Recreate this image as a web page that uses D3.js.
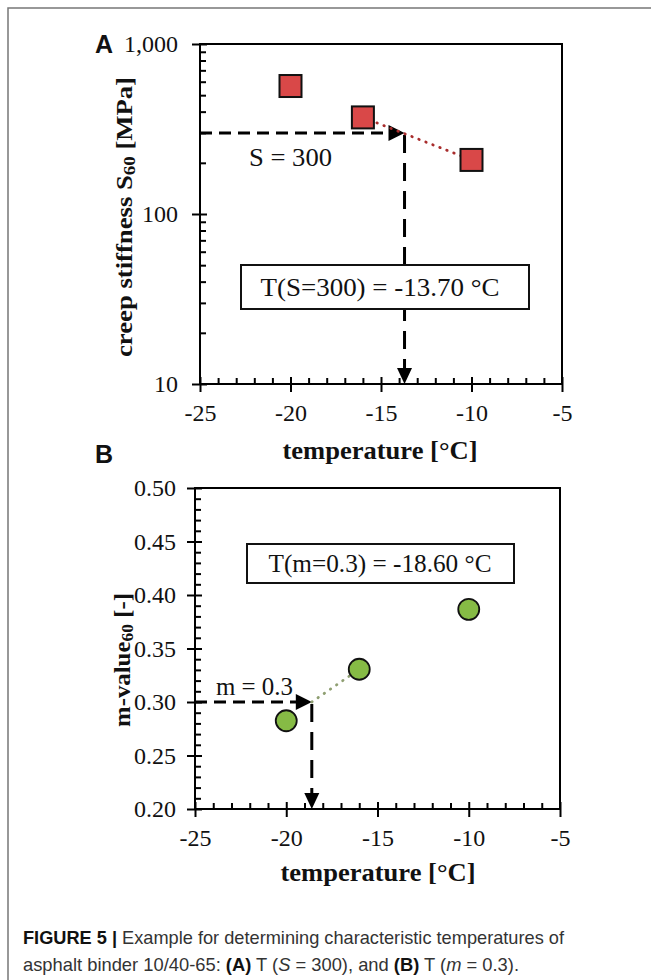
<!DOCTYPE html>
<html lang="en">
<head>
<meta charset="UTF-8">
<title>Figure 5</title>
<script src="https://cdn.jsdelivr.net/npm/d3@7"></script>
<style>
  html, body { margin: 0; padding: 0; background: #fff; }
  svg text { fill: #111; }
</style>
</head>
<body>
<div id="chart"></div>
<script>
// values
const temps = [-20, -16, -10];
const stiffness = [566, 370, 208];          // panel A, MPa
const mValues = [0.2825, 0.3306, 0.3866];   // panel B
const sCrit = 300, tAtS = -13.70;
const mCrit = 0.3, tAtM = -18.60;

const xTicks = [-25, -20, -15, -10, -5];
const yTicksA = [10, 100, 1000];
const yTicksB = [0.20, 0.25, 0.30, 0.35, 0.40, 0.45, 0.50];

const serif = "'Liberation Serif', 'Times New Roman', serif";
const sans = "'Liberation Sans', Arial, sans-serif";

const svg = d3.select("#chart").append("svg")
  .attr("width", 651).attr("height", 980);

// figure frame (left and top)
svg.append("path").attr("d", "M8,980V8H651")
  .attr("fill", "none").attr("stroke", "#777").attr("stroke-width", 1.5);

function drawAxes(x, y, yMajor, yMinor, yFmt, labelPad) {
  const [x0, x1] = x.range(), [y0, y1] = y.range();
  const g = svg.append("g");
  const xMinor = d3.range(-25, -5, 1).filter(d => !xTicks.includes(d));

  // bottom axis: labels + outer ticks, inner ticks, minor ticks
  g.append("g").attr("transform", `translate(0,${y0})`)
    .call(d3.axisBottom(x).tickValues(xTicks).tickSize(8).tickSizeOuter(0).tickFormat(d => String(d)))
    .call(a => a.selectAll("text").attr("y", 29).attr("dy", "0.35em"));
  g.append("g").attr("transform", `translate(0,${y0})`)
    .call(d3.axisBottom(x).tickValues(xTicks).tickSize(-7).tickSizeOuter(0).tickFormat(""));
  g.append("g").attr("transform", `translate(0,${y0})`)
    .call(d3.axisBottom(x).tickValues(xMinor).tickSize(-6).tickSizeOuter(0).tickFormat(""));

  // left axis
  g.append("g").attr("transform", `translate(${x0},0)`)
    .call(d3.axisLeft(y).tickValues(yMajor).tickSize(8).tickSizeOuter(0)
      .tickPadding(labelPad).tickFormat(yFmt));
  g.append("g").attr("transform", `translate(${x0},0)`)
    .call(d3.axisLeft(y).tickValues(yMajor).tickSize(-7).tickSizeOuter(0).tickFormat(""));
  g.append("g").attr("transform", `translate(${x0},0)`)
    .call(d3.axisLeft(y).tickValues(yMinor).tickSize(-6).tickSizeOuter(0).tickFormat(""));

  g.selectAll(".domain").remove();
  g.selectAll("g").attr("font-family", serif).attr("font-size", 24);
  g.selectAll(".tick line").attr("stroke", "#000").attr("stroke-width", 2);
  g.selectAll(".tick text").attr("fill", "#111");

  g.append("rect").attr("x", x0).attr("y", y1)
    .attr("width", x1 - x0).attr("height", y0 - y1)
    .attr("fill", "none").attr("stroke", "#000").attr("stroke-width", 2);
}

function arrowRight(px, py) {
  return `M${px},${py}L${px - 16},${py - 8}L${px - 16},${py + 8}Z`;
}
function arrowDown(px, py) {
  return `M${px},${py}L${px - 7.5},${py - 16}L${px + 7.5},${py - 16}Z`;
}

function label(txt, x, y, opts) {
  const t = svg.append("text").attr("x", x).attr("y", y)
    .attr("font-family", opts.family || serif)
    .attr("font-size", opts.size)
    .attr("font-weight", opts.weight || "normal")
    .attr("text-anchor", opts.anchor || "middle")
    .attr("dominant-baseline", "central");
  if (opts.len) t.attr("textLength", opts.len).attr("lengthAdjust", "spacingAndGlyphs");
  if (opts.rotate) t.attr("transform", `rotate(-90,${x},${y})`);
  t.text(txt);
  return t;
}

// ---------- panel A ----------
const xA = d3.scaleLinear().domain([-25, -5]).range([200, 562]);
const yA = d3.scaleLog().domain([10, 1000]).range([384, 44]);
const minorA = [];
[10, 100].forEach(b => { for (let k = 2; k < 10; k++) minorA.push(b * k); });
drawAxes(xA, yA, yTicksA, minorA, d3.format(","), 14);

// dashed guides
svg.append("line")
  .attr("x1", xA(-25)).attr("x2", xA(tAtS) - 13)
  .attr("y1", yA(sCrit)).attr("y2", yA(sCrit))
  .attr("stroke", "#000").attr("stroke-width", 3).attr("stroke-dasharray", "12,7");
svg.append("path").attr("d", arrowRight(xA(tAtS), yA(sCrit)));
svg.append("line")
  .attr("x1", xA(tAtS)).attr("x2", xA(tAtS))
  .attr("y1", yA(sCrit) + 2).attr("y2", yA(10) - 12)
  .attr("stroke", "#000").attr("stroke-width", 3).attr("stroke-dasharray", "18,10");
svg.append("path").attr("d", arrowDown(xA(tAtS), yA(10)));

// dotted interpolation line
svg.append("line")
  .attr("x1", xA(temps[1])).attr("y1", yA(stiffness[1]))
  .attr("x2", xA(temps[2])).attr("y2", yA(stiffness[2]))
  .attr("stroke", "#a82c2c").attr("stroke-width", 2.8)
  .attr("stroke-linecap", "round").attr("stroke-dasharray", "0.5,7");

svg.selectAll("rect.pt").data(temps).enter().append("rect")
  .attr("class", "pt")
  .attr("x", d => xA(d) - 11).attr("y", (d, i) => yA(stiffness[i]) - 11)
  .attr("width", 22).attr("height", 22)
  .attr("fill", "#d94848").attr("stroke", "#111").attr("stroke-width", 2);

label("S = 300", 249, 157, { size: 25, anchor: "start", len: 83 });

svg.append("rect").attr("x", 241).attr("y", 265).attr("width", 288).attr("height", 44)
  .attr("fill", "#fff").attr("stroke", "#111").attr("stroke-width", 2);
label("T(S=300) = -13.70 °C", 380, 287, { size: 25, len: 239 });

label("A", 104, 44, { family: sans, size: 25, weight: "bold" });

const ylabA = label("", 124, 217, { size: 24, weight: "bold", rotate: true, len: 280 });
ylabA.append("tspan").text("creep stiffness S");
ylabA.append("tspan").attr("font-size", 17).attr("dy", 5).text("60");
ylabA.append("tspan").attr("dy", -5).text(" [MPa]");
label("temperature [°C]", 380, 450, { size: 26, weight: "bold", len: 195 });

// ---------- panel B ----------
const xB = d3.scaleLinear().domain([-25, -5]).range([195, 560]);
const yB = d3.scaleLinear().domain([0.20, 0.50]).range([809, 488]);
const minorB = d3.range(20, 50).filter(d => d % 5 !== 0).map(d => d / 100);
drawAxes(xB, yB, yTicksB, minorB, d3.format(".2f"), 11);

svg.append("line")
  .attr("x1", xB(-25)).attr("x2", xB(tAtM) - 13)
  .attr("y1", yB(mCrit)).attr("y2", yB(mCrit))
  .attr("stroke", "#000").attr("stroke-width", 3).attr("stroke-dasharray", "12,7");
svg.append("path").attr("d", arrowRight(xB(tAtM), yB(mCrit)));
svg.append("line")
  .attr("x1", xB(tAtM)).attr("x2", xB(tAtM))
  .attr("y1", yB(mCrit) + 2).attr("y2", yB(0.2) - 12)
  .attr("stroke", "#000").attr("stroke-width", 3).attr("stroke-dasharray", "18,10");
svg.append("path").attr("d", arrowDown(xB(tAtM), yB(0.2)));

svg.append("line")
  .attr("x1", xB(tAtM)).attr("y1", yB(mCrit))
  .attr("x2", xB(temps[1])).attr("y2", yB(mValues[1]))
  .attr("stroke", "#8f9f72").attr("stroke-width", 2.8)
  .attr("stroke-linecap", "round").attr("stroke-dasharray", "0.5,7");

svg.selectAll("circle.pt").data(temps).enter().append("circle")
  .attr("class", "pt")
  .attr("cx", d => xB(d)).attr("cy", (d, i) => yB(mValues[i]))
  .attr("r", 10.5)
  .attr("fill", "#86bb45").attr("stroke", "#111").attr("stroke-width", 1.8);

label("m = 0.3", 216, 686, { size: 25, anchor: "start", len: 77 });

svg.append("rect").attr("x", 247).attr("y", 544).attr("width", 267).attr("height", 39)
  .attr("fill", "#fff").attr("stroke", "#111").attr("stroke-width", 2);
label("T(m=0.3) = -18.60 °C", 380, 563, { size: 25, len: 223 });

label("B", 104, 454, { family: sans, size: 25, weight: "bold" });

const ylabB = label("", 122, 660, { size: 24, weight: "bold", rotate: true, len: 134 });
ylabB.append("tspan").text("m-value");
ylabB.append("tspan").attr("font-size", 17).attr("dy", 5).text("60");
ylabB.append("tspan").attr("dy", -5).text(" [-]");
label("temperature [°C]", 378, 872, { size: 26, weight: "bold", len: 195 });

// ---------- caption ----------
const cap1 = svg.append("text").attr("x", 23).attr("y", 944)
  .attr("font-family", sans).attr("font-size", 18.5)
  .attr("textLength", 541).attr("lengthAdjust", "spacingAndGlyphs");
cap1.append("tspan").attr("font-weight", "bold").text("FIGURE 5 |");
cap1.append("tspan").attr("fill", "#333").text(" Example for determining characteristic temperatures of");

const cap2 = svg.append("text").attr("x", 23).attr("y", 971)
  .attr("font-family", sans).attr("font-size", 18.5)
  .attr("textLength", 496).attr("lengthAdjust", "spacingAndGlyphs");
[["asphalt binder 10/40-65: ", ""], ["(A)", "b"], [" T (", ""], ["S", "i"], [" = 300), and ", ""],
 ["(B)", "b"], [" T (", ""], ["m", "i"], [" = 0.3).", ""]].forEach(([s, st]) => {
  cap2.append("tspan")
    .attr("font-weight", st === "b" ? "bold" : "normal")
    .attr("font-style", st === "i" ? "italic" : "normal")
    .attr("fill", st === "b" ? "#111" : "#333")
    .text(s);
});
</script>
</body>
</html>
